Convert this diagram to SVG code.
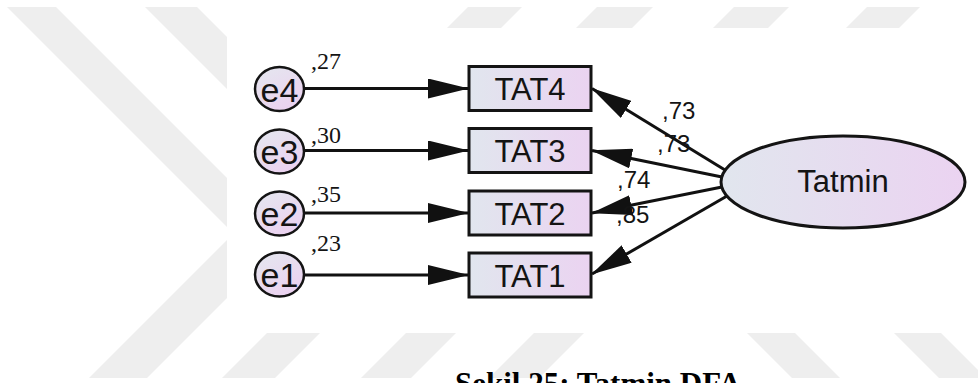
<svg xmlns="http://www.w3.org/2000/svg" width="978" height="383" viewBox="0 0 978 383">
  <defs>
    <linearGradient id="fillH" x1="0" y1="0" x2="1" y2="0">
      <stop offset="0" stop-color="#e1e6ee"/>
      <stop offset="1" stop-color="#ebd3f1"/>
    </linearGradient>
    <linearGradient id="fillD" x1="0" y1="0" x2="0.6" y2="1">
      <stop offset="0" stop-color="#e4e8ef"/>
      <stop offset="1" stop-color="#ebd2f0"/>
    </linearGradient>
    <marker id="arrow" viewBox="0 0 41 20" refX="40" refY="10" markerWidth="41" markerHeight="20" markerUnits="userSpaceOnUse" orient="auto">
      <path d="M0,0 L41,10 L0,20 Z" fill="#111"/>
    </marker>
    <style>
      .wm { fill: #eeeeee; }
      .obs { fill: url(#fillH); stroke: #141414; stroke-width: 3; }
      .lat { fill: url(#fillH); stroke: #141414; stroke-width: 3; }
      .err { fill: url(#fillD); stroke: #141414; stroke-width: 2.5; }
      .lbl { font-family: "Liberation Sans", Arial, sans-serif; fill: #141414; text-anchor: middle; }
      .elbl { font-family: "Liberation Sans", Arial, sans-serif; font-size: 34px; fill: #141414; text-anchor: middle; }
      .coef { font-family: "Liberation Sans", Arial, sans-serif; font-size: 24px; fill: #141414; }
      .var { font-family: "Liberation Serif", "Times New Roman", serif; font-size: 24px; fill: #141414; }
      .path { stroke: #111; stroke-width: 3; fill: none; marker-end: url(#arrow); }
      .caption { font-family: "Liberation Serif", "Times New Roman", serif; font-weight: bold; font-size: 31px; fill: #000; }
    </style>
  </defs>

  <rect width="978" height="383" fill="#ffffff"/>

  <!-- background watermark stripes -->
  <g id="watermark">
    <polygon class="wm" points="7,7 56,7 287,238 147,378 89,378 233.5,233.5"/>
    <polygon class="wm" points="145,7 197,7 421.5,231.5 275,378 222,378 369,231"/>
    <polygon class="wm" points="406,333 456,333 411,378 361,378"/>
    <polygon class="wm" points="534,333 584,333 539,378 489,378"/>
    <polygon class="wm" points="747,333 795,333 840,378 792,378"/>
    <polygon class="wm" points="894,333 941,333 986,378 939,378"/>
    <polygon class="wm" points="468,7 522,7 501,28 447,28"/>
    <polygon class="wm" points="597,7 653,7 632,28 576,28"/>
    <polygon class="wm" points="734,7 789,7 768,28 713,28"/>
    <polygon class="wm" points="867,7 920,7 899,28 846,28"/>
  </g>

  <!-- diagram canvas -->
  <rect x="227" y="28" width="751" height="305" fill="#ffffff"/>

  <!-- connectors -->
  <g id="connectors">
    <line class="path" x1="304" y1="88.5" x2="468" y2="88.5"/>
    <line class="path" x1="304" y1="150.5" x2="468" y2="150.5"/>
    <line class="path" x1="304" y1="213" x2="468" y2="213"/>
    <line class="path" x1="304" y1="275" x2="468" y2="275"/>
    <line class="path" x1="725" y1="170" x2="592" y2="88.5"/>
    <line class="path" x1="722" y1="177" x2="592" y2="150.5"/>
    <line class="path" x1="722" y1="187" x2="592" y2="213"/>
    <line class="path" x1="727" y1="196" x2="592" y2="274"/>
  </g>

  <!-- error terms -->
  <g id="e4">
    <ellipse class="err" cx="279.5" cy="89" rx="24.5" ry="22"/>
    <text class="elbl" x="279.5" y="101.5">e4</text>
  </g>
  <g id="e3">
    <ellipse class="err" cx="279.5" cy="151.5" rx="24.5" ry="22"/>
    <text class="elbl" x="279.5" y="164">e3</text>
  </g>
  <g id="e2">
    <ellipse class="err" cx="279.5" cy="213.5" rx="24.5" ry="22"/>
    <text class="elbl" x="279.5" y="226">e2</text>
  </g>
  <g id="e1">
    <ellipse class="err" cx="279.5" cy="274.5" rx="24.5" ry="22"/>
    <text class="elbl" x="279.5" y="287">e1</text>
  </g>

  <!-- observed variables -->
  <g id="TAT4">
    <rect class="obs" x="469" y="66.5" width="122" height="44"/>
    <text class="lbl" x="530" y="100" font-size="31">TAT4</text>
  </g>
  <g id="TAT3">
    <rect class="obs" x="469" y="128.5" width="122" height="44"/>
    <text class="lbl" x="530" y="162" font-size="31">TAT3</text>
  </g>
  <g id="TAT2">
    <rect class="obs" x="469" y="191" width="122" height="44"/>
    <text class="lbl" x="530" y="224.5" font-size="31">TAT2</text>
  </g>
  <g id="TAT1">
    <rect class="obs" x="469" y="253" width="122" height="44"/>
    <text class="lbl" x="530" y="286.5" font-size="31">TAT1</text>
  </g>

  <!-- latent variable -->
  <g id="Tatmin">
    <ellipse class="lat" cx="843" cy="182" rx="122" ry="46"/>
    <text class="lbl" x="843" y="192" font-size="31">Tatmin</text>
  </g>

  <!-- variance estimates -->
  <g id="variances">
    <text class="var" x="311" y="69">,27</text>
    <text class="var" x="311" y="143">,30</text>
    <text class="var" x="311" y="202">,35</text>
    <text class="var" x="311" y="251">,23</text>
  </g>

  <!-- factor loadings -->
  <g id="loadings">
    <text class="coef" x="662" y="119">,73</text>
    <text class="coef" x="657" y="152">,73</text>
    <text class="coef" x="617" y="188">,74</text>
    <text class="coef" x="616" y="223">,85</text>
  </g>

  <text class="caption" x="455" y="394">Şekil 25: Tatmin DFA</text>
</svg>
